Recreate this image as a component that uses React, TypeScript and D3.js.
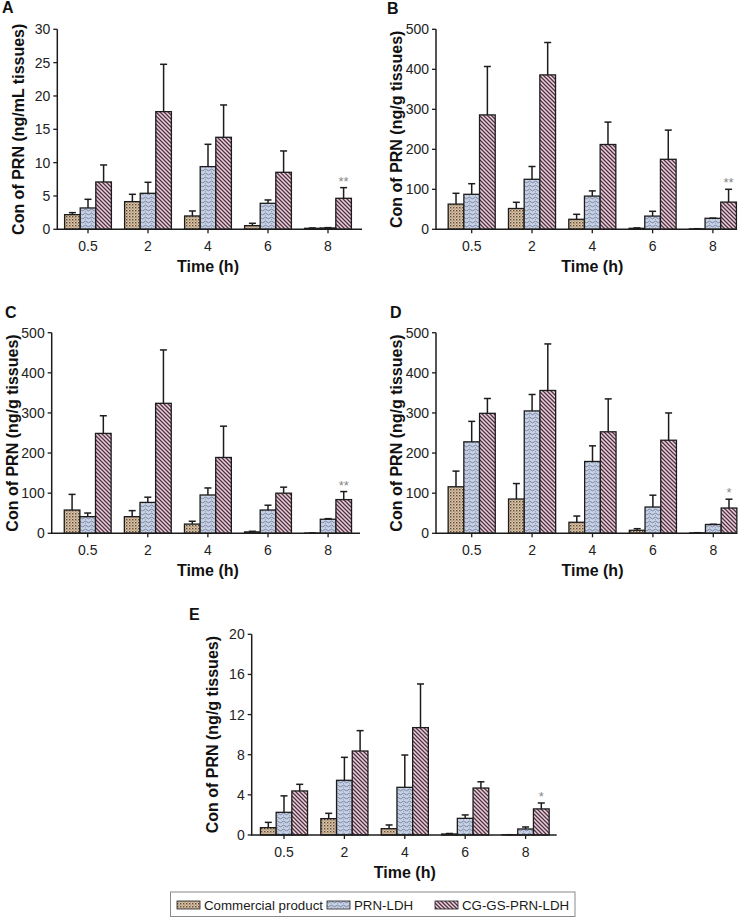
import React from "react";
import * as d3 from "d3";

// ---------- data ----------
const timePoints = ["0.5", "2", "4", "6", "8"];
const seriesNames = ["Commercial product", "PRN-LDH", "CG-GS-PRN-LDH"];

// Panel A (ng/mL tissues)
const aCommercial = [2.2, 4.15, 2.0, 0.55, 0.15];
const aCommercialSd = [0.3, 1.1, 0.75, 0.35, 0.05];
const aPrnLdh = [3.2, 5.4, 9.4, 3.9, 0.2];
const aPrnLdhSd = [1.3, 1.65, 3.35, 0.5, 0.05];
const aCgGs = [7.1, 17.65, 13.8, 8.55, 4.65];
const aCgGsSd = [2.55, 7.1, 4.85, 3.2, 1.6];

// Panel B (ng/g tissues)
const bCommercial = [63, 52, 25, 2.5, 1];
const bCommercialSd = [27, 15.5, 12.5, 1, 0.5];
const bPrnLdh = [87.5, 125, 83, 33, 27.5];
const bPrnLdhSd = [26.5, 32, 13, 12, 0.5];
const bCgGs = [286, 386, 212, 175, 68];
const bCgGsSd = [121, 81, 56, 73, 32];

// Panel C (ng/g tissues)
const cCommercial = [58, 41.5, 23, 3.5, 0.5];
const cCommercialSd = [39, 15, 7, 1.5, 0.3];
const cPrnLdh = [41.5, 77, 95.5, 58, 35];
const cPrnLdhSd = [9, 13, 17.5, 12, 1.5];
const cCgGs = [249, 324, 189, 100, 84];
const cCgGsSd = [44, 133, 78, 15, 20];

// Panel D (ng/g tissues)
const dCommercial = [116, 85.5, 27.5, 7.5, 1];
const dCommercialSd = [39, 38.5, 15.5, 4, 0.5];
const dPrnLdh = [228, 305, 179, 65.5, 22];
const dPrnLdhSd = [51, 41, 39, 29.5, 0.5];
const dCgGs = [299, 356, 253, 232, 63];
const dCgGsSd = [37, 116, 82, 68, 22];

// Panel E (ng/g tissues)
const eCommercial = [0.73, 1.63, 0.63, 0.1, 0.02];
const eCommercialSd = [0.53, 0.53, 0.37, 0.05, 0.01];
const ePrnLdh = [2.26, 5.45, 4.75, 1.66, 0.6];
const ePrnLdhSd = [1.64, 2.29, 3.22, 0.34, 0.2];
const eCgGs = [4.39, 8.37, 10.7, 4.68, 2.6];
const eCgGsSd = [0.66, 2.03, 4.35, 0.62, 0.59];

const aTicks = [0, 5, 10, 15, 20, 25, 30];
const bcdTicks = [0, 100, 200, 300, 400, 500];
const eTicks = [0, 4, 8, 12, 16, 20];

const panelLetters = ["A", "B", "C", "D", "E"];
const yTitles = [
  "Con of PRN (ng/mL tissues)",
  "Con of PRN (ng/g tissues)",
  "Con of PRN (ng/g tissues)",
  "Con of PRN (ng/g tissues)",
  "Con of PRN (ng/g tissues)",
];
const significance = ["**", "**", "**", "*", "*"];
const xTitle = "Time (h)";

// ---------- panel definitions ----------
const panelData = [
  { means: [aCommercial, aPrnLdh, aCgGs], sds: [aCommercialSd, aPrnLdhSd, aCgGsSd], ticks: aTicks },
  { means: [bCommercial, bPrnLdh, bCgGs], sds: [bCommercialSd, bPrnLdhSd, bCgGsSd], ticks: bcdTicks },
  { means: [cCommercial, cPrnLdh, cCgGs], sds: [cCommercialSd, cPrnLdhSd, cCgGsSd], ticks: bcdTicks },
  { means: [dCommercial, dPrnLdh, dCgGs], sds: [dCommercialSd, dPrnLdhSd, dCgGsSd], ticks: bcdTicks },
  { means: [eCommercial, ePrnLdh, eCgGs], sds: [eCommercialSd, ePrnLdhSd, eCgGsSd], ticks: eTicks },
];

// layout (pixels)
const layouts = [
  { axisX: 57.3, axisEnd: 362, c0: 88, step: 60, y0: 229.3, yTop: 29.3, lx: 2, ly: 13 },
  { axisX: 436, axisEnd: 737, c0: 471.7, step: 60.3, y0: 229.3, yTop: 29.3, lx: 387, ly: 14 },
  { axisX: 51.7, axisEnd: 360, c0: 87.7, step: 60.1, y0: 533.3, yTop: 332.7, lx: 5, ly: 318 },
  { axisX: 436, axisEnd: 737, c0: 471.7, step: 60.4, y0: 533.3, yTop: 332.7, lx: 390, ly: 318 },
  { axisX: 251.7, axisEnd: 556.7, c0: 284, step: 60.4, y0: 835, yTop: 634.3, lx: 189, ly: 620 },
];

const fills = ["url(#patC)", "url(#patP)", "url(#patG)"];
const INK = "#1c1c1c";
const FONT = "'Liberation Sans', Arial, Helvetica, sans-serif";

function Patterns() {
  return (
    <defs>
      <pattern id="patC" width={3} height={3} patternUnits="userSpaceOnUse">
        <rect width={3} height={3} fill="#dcc6a8" />
        <rect x={0} y={0} width={1.4} height={1.4} fill="#5f4a3a" />
        <rect x={1.5} y={1.5} width={1.1} height={1.1} fill="#8c735c" />
      </pattern>
      <pattern id="patP" width={6} height={4} patternUnits="userSpaceOnUse">
        <rect width={6} height={4} fill="#c8d2e6" />
        <path d="M0,2 Q1.5,0.3 3,2 T6,2" fill="none" stroke="#6f7b94" strokeWidth={0.9} />
        <rect x={1} y={3.2} width={1} height={0.8} fill="#8e99b0" />
      </pattern>
      <pattern id="patG" width={4} height={4} patternUnits="userSpaceOnUse">
        <rect width={4} height={4} fill="#ecd0dc" />
        <path d="M0,0 L4,4 M-1,3 L1,5 M3,-1 L5,1" stroke="#4f3343" strokeWidth={1.3} />
      </pattern>
    </defs>
  );
}

function Panel({ idx }: { idx: number }) {
  const L = layouts[idx];
  const D = panelData[idx];
  const start = L.c0 - L.step / 2;
  const x = d3
    .scaleBand<string>()
    .domain(timePoints)
    .range([start, start + 5 * L.step])
    .paddingInner(0.22)
    .paddingOuter(0.11);
  const xs = d3.scaleBand<string>().domain(seriesNames).range([0, x.bandwidth()]);
  const yMax = D.ticks[D.ticks.length - 1];
  const y = d3.scaleLinear().domain([0, yMax]).range([L.y0, L.yTop]);
  const midX = (x(timePoints[2]) as number) + x.bandwidth() / 2;

  const bars: React.ReactNode[] = [];
  const errs: React.ReactNode[] = [];
  seriesNames.forEach((s, si) => {
    timePoints.forEach((t, ti) => {
      const m = D.means[si][ti];
      const sd = D.sds[si][ti];
      const bx = (x(t) as number) + (xs(s) as number);
      const bw = xs.bandwidth();
      const cx = bx + bw / 2;
      bars.push(
        <rect
          key={`b${si}-${ti}`}
          x={bx}
          y={y(m)}
          width={bw}
          height={L.y0 - y(m)}
          fill={fills[si]}
          stroke={INK}
          strokeWidth={1.3}
        />
      );
      errs.push(
        <g key={`e${si}-${ti}`} stroke={INK} strokeWidth={1.5}>
          <line x1={cx} x2={cx} y1={y(m)} y2={y(m + sd)} />
          <line x1={cx - 3.5} x2={cx + 3.5} y1={y(m + sd)} y2={y(m + sd)} />
        </g>
      );
    });
  });

  const lastT = timePoints[timePoints.length - 1];
  const sigX = (x(lastT) as number) + (xs(seriesNames[2]) as number) + xs.bandwidth() / 2;
  const sigY = y(D.means[2][4] + D.sds[2][4]) - 2;

  return (
    <g fontFamily={FONT}>
      <text x={L.lx} y={L.ly} fontSize={16} fontWeight="bold" fill="#111">
        {panelLetters[idx]}
      </text>
      {bars}
      {errs}
      {/* axes */}
      <line x1={L.axisX} x2={L.axisX} y1={L.yTop} y2={L.y0 + 0.75} stroke={INK} strokeWidth={1.5} />
      <line x1={L.axisX} x2={L.axisEnd} y1={L.y0} y2={L.y0} stroke={INK} strokeWidth={1.5} />
      {D.ticks.map((t) => (
        <g key={`yt${t}`}>
          <line x1={L.axisX - 4} x2={L.axisX} y1={y(t)} y2={y(t)} stroke={INK} strokeWidth={1.3} />
          <text x={L.axisX - 7} y={y(t)} dy="0.36em" textAnchor="end" fontSize={14} fill="#222">
            {t}
          </text>
        </g>
      ))}
      {timePoints.map((t) => {
        const cx = (x(t) as number) + x.bandwidth() / 2;
        return (
          <g key={`xt${t}`}>
            <line x1={cx} x2={cx} y1={L.y0} y2={L.y0 + 4} stroke={INK} strokeWidth={1.3} />
            <text x={cx} y={L.y0 + 22} textAnchor="middle" fontSize={14} fill="#222">
              {t}
            </text>
          </g>
        );
      })}
      <text x={midX} y={L.y0 + 43} textAnchor="middle" fontSize={16} fontWeight="bold" fill="#111">
        {xTitle}
      </text>
      <text
        transform={`translate(${L.axisX - 39.5},${(L.y0 + L.yTop) / 2}) rotate(-90)`}
        dy="0.36em"
        textAnchor="middle"
        fontSize={16}
        fontWeight="bold"
        fill="#111"
      >
        {yTitles[idx]}
      </text>
      <text x={sigX} y={sigY} textAnchor="middle" fontSize={13} fill="#888">
        {significance[idx]}
      </text>
    </g>
  );
}

function Legend() {
  const items = [
    { sx: 177, tx: 204 },
    { sx: 327, tx: 354 },
    { sx: 435, tx: 462 },
  ];
  return (
    <g fontFamily={FONT}>
      <rect x={170.5} y={892} width={404.5} height={24.5} fill="#fff" stroke="#8a8a8a" strokeWidth={1} />
      {seriesNames.map((s, i) => (
        <g key={s}>
          <rect x={items[i].sx} y={901} width={23} height={8} fill={fills[i]} stroke={INK} strokeWidth={0.8} />
          <text x={items[i].tx} y={905} dy="0.36em" fontSize={13.3} fill="#1a1a1a">
            {s}
          </text>
        </g>
      ))}
    </g>
  );
}

export default function App() {
  return (
    <svg
      width={745}
      height={917}
      viewBox="0 0 745 917"
      style={{ position: "absolute", left: 0, top: 0, background: "#fff" }}
    >
      <Patterns />
      <rect width={745} height={917} fill="#fff" />
      {layouts.map((_, i) => (
        <Panel key={i} idx={i} />
      ))}
      <Legend />
    </svg>
  );
}
